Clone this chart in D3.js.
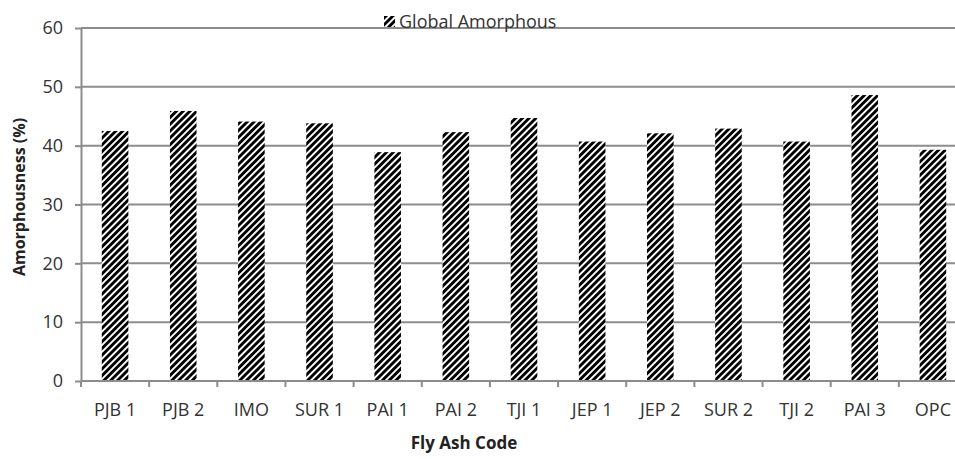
<!DOCTYPE html>
<html>
<head>
<meta charset="utf-8">
<script src="https://cdn.jsdelivr.net/npm/d3@7"></script>
<style>
  body { margin: 0; background: #fff; }
  svg { display: block; font-family: "Open Sans", Lato, sans-serif; }
</style>
</head>
<body>
<div class="bar-chart"></div>
<script>
// data
const categories = ['PJB 1','PJB 2','IMO','SUR 1','PAI 1','PAI 2','TJI 1','JEP 1','JEP 2','SUR 2','TJI 2','PAI 3','OPC'];
const amorphous = [42.5, 45.9, 44.1, 43.8, 38.9, 42.3, 44.7, 40.7, 42.1, 42.9, 40.7, 48.6, 39.3];
const yTicks = [0, 10, 20, 30, 40, 50, 60];
const seriesName = 'Global Amorphous';

setupCanvas();

function setupCanvas(){
    const svg_width = 955;
    const svg_height = 459;
    // plot runs a little past the right edge, like the cropped source
    const margin = {top: 28, right: -12, bottom: 78, left: 81};
    const chart_width = svg_width - (margin.left + margin.right);
    const chart_height = svg_height - (margin.top + margin.bottom);

    const svg = d3.select('.bar-chart').append('svg')
        .attr('width', svg_width).attr('height', svg_height);

    // diagonal stripe fill
    const defs = svg.append('defs');
    defs.append('pattern').attr('id','stripes')
        .attr('patternUnits','userSpaceOnUse')
        .attr('width', 4.8).attr('height', 4.8)
        .attr('patternTransform','rotate(45)')
        .call(p => {
            p.append('rect').attr('width',4.8).attr('height',4.8).attr('fill','#fff');
            p.append('rect').attr('width',2.9).attr('height',4.8).attr('fill','#000');
        });

    const g = svg.append('g').attr('transform', `translate(${margin.left},${margin.top})`);

    const xScale = d3.scaleBand().domain(categories).range([0, chart_width]).paddingInner(0.61).paddingOuter(0.305);
    const xEdge = d3.scaleLinear().domain([0, categories.length]).range([0, chart_width]);
    const yScale = d3.scaleLinear().domain([0, 60]).range([chart_height, 0]);

    // gridlines
    g.append('g').attr('class','grid')
        .selectAll('line').data(yTicks.filter(d => d > 0)).enter()
        .append('line')
        .attr('x1', 0).attr('x2', chart_width)
        .attr('y1', d => yScale(d)).attr('y2', d => yScale(d))
        .style('stroke', '#8c8c8c').style('stroke-width', 2);

    // bars
    g.append('g').attr('class','bars')
        .selectAll('rect').data(amorphous).enter()
        .append('rect')
        .attr('x', (d,i) => xScale(categories[i]))
        .attr('width', xScale.bandwidth())
        .attr('y', d => yScale(d))
        .attr('height', d => chart_height - yScale(d))
        .attr('fill', 'url(#stripes)');

    // y axis
    const yAxis = d3.axisLeft(yScale).tickValues(yTicks).tickSizeInner(6).tickSizeOuter(0).tickPadding(12);
    const yG = g.append('g').attr('class','y axis').call(yAxis);
    yG.select('.domain').style('stroke','#8c8c8c').style('stroke-width',2);
    yG.selectAll('.tick line').style('stroke','#8c8c8c').style('stroke-width',2);
    yG.selectAll('text').style('font-size','18px').style('font-family','"Open Sans", sans-serif').style('fill','#333');

    // x axis, ticks on category boundaries
    const xG = g.append('g').attr('class','x axis').attr('transform', `translate(0,${chart_height})`);
    xG.append('line').attr('x1',0).attr('x2',chart_width)
        .style('stroke','#8c8c8c').style('stroke-width',2);
    xG.selectAll('.edge').data(d3.range(categories.length + 1)).enter()
        .append('line').attr('class','edge')
        .attr('x1', d => xEdge(d)).attr('x2', d => xEdge(d))
        .attr('y1', 0).attr('y2', 6)
        .style('stroke','#8c8c8c').style('stroke-width',2);
    xG.selectAll('.label').data(categories).enter()
        .append('text').attr('class','label')
        .attr('x', d => xScale(d) + xScale.bandwidth()/2)
        .attr('y', 35)
        .attr('text-anchor','middle')
        .style('font-size','18px').style('fill','#333')
        .text(d => d);

    // axis titles
    svg.append('text')
        .attr('transform', 'translate(25,197) rotate(-90)')
        .attr('text-anchor','middle')
        .style('font-size','16px').style('font-weight','bold').style('fill','#222')
        .text('Amorphousness (%)');
    svg.append('text')
        .attr('x', 464).attr('y', 449)
        .attr('text-anchor','middle')
        .style('font-size','17px').style('font-weight','bold').style('fill','#222')
        .text('Fly Ash Code');

    // legend
    const legend = svg.append('g').attr('class','legend').attr('transform','translate(384,16)');
    legend.append('rect').attr('width',11).attr('height',11).attr('fill','url(#stripes)');
    legend.append('text').attr('x',15).attr('y',12)
        .style('font-size','18px').style('fill','#333')
        .text(seriesName);
}
</script>
</body>
</html>
